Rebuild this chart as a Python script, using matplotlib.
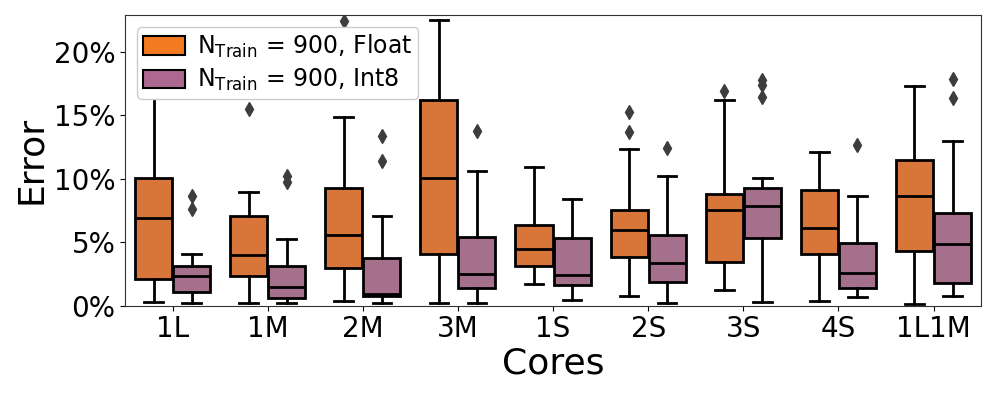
import matplotlib.pyplot as plt
from matplotlib.patches import Patch
from matplotlib.ticker import PercentFormatter

cores = ['1L', '1M', '2M', '3M', '1S', '2S', '3S', '4S', '1L1M']

# box stats in percent
float_lo = [0.3, 0.17, 0.35, 0.17, 1.67, 0.77, 1.22, 0.35, 0.14]
float_q1 = [2.08, 2.32, 2.97, 4.05, 3.08, 3.84, 3.44, 4.05, 4.26]
float_med = [6.93, 3.99, 5.54, 10.02, 4.44, 5.99, 7.51, 6.09, 8.61]
float_q3 = [10.06, 7.04, 9.29, 16.23, 6.35, 7.53, 8.77, 9.10, 11.49]
float_hi = [18.0, 8.98, 14.84, 22.47, 10.89, 12.33, 16.18, 12.12, 17.31]
float_fliers = [[], [15.5], [22.44], [], [], [15.27, 13.64], [16.92], [], []]

int8_lo = [0.17, 0.17, 0.2, 0.17, 0.46, 0.17, 0.3, 0.64, 0.75]
int8_q1 = [1.04, 0.59, 0.77, 1.35, 1.61, 1.87, 5.31, 1.40, 1.77]
int8_med = [2.30, 1.43, 0.9, 2.48, 2.40, 3.32, 7.85, 2.53, 4.86]
int8_q3 = [3.13, 3.13, 3.73, 5.39, 5.33, 5.52, 9.26, 4.91, 7.33]
int8_hi = [4.10, 5.23, 7.04, 10.57, 8.37, 10.18, 10.08, 8.66, 12.99]
int8_fliers = [[8.63, 7.59], [10.2, 9.73], [13.4, 11.36], [13.72], [], [12.43],
               [17.78, 17.4, 16.42], [12.62], [17.89, 16.39]]

plt.rcParams['mathtext.default'] = 'regular'

fig = plt.figure(figsize=(9.96, 3.99), dpi=100)
ax = fig.add_axes([0.1255, 0.2343, 0.8595, 0.7281])


def stats(lo, q1, med, q3, hi, fl):
    return [dict(whislo=a, q1=b, med=c, q3=d, whishi=e, fliers=f)
            for a, b, c, d, e, f in zip(lo, q1, med, q3, hi, fl)]


series = [
    (stats(float_lo, float_q1, float_med, float_q3, float_hi, float_fliers), -0.2, '#d8763a'),
    (stats(int8_lo, int8_q1, int8_med, int8_q3, int8_hi, int8_fliers), 0.2, '#a4708c'),
]
for st, off, col in series:
    pos = [i + off for i in range(len(cores))]
    ax.bxp(st, positions=pos, widths=0.39, patch_artist=True, manage_ticks=False,
           boxprops=dict(facecolor=col, edgecolor='black', linewidth=2),
           medianprops=dict(color='black', linewidth=2),
           whiskerprops=dict(color='black', linewidth=2),
           capprops=dict(color='black', linewidth=2),
           flierprops=dict(marker='d', markerfacecolor='#3d3d3d',
                           markeredgecolor='#3d3d3d', markersize=7.5))

ax.set_xlim(-0.5, len(cores) - 0.5)
ax.set_ylim(0, 22.9)
ax.set_xticks(range(len(cores)))
ax.set_xticklabels(cores, fontsize=20)
ax.set_yticks([0, 5, 10, 15, 20])
ax.yaxis.set_major_formatter(PercentFormatter(100, decimals=0))
ax.tick_params(axis='y', labelsize=20)
ax.set_xlabel('Cores', fontsize=26, labelpad=2)
ax.set_ylabel('Error', fontsize=26)
for s in ax.spines.values():
    s.set_color('#333333')

handles = [Patch(facecolor='#f37a20', edgecolor='black', linewidth=1.5),
           Patch(facecolor='#ac6890', edgecolor='black', linewidth=1.5)]
labels = [r'$N_{Train}$ = 900, Float', r'$N_{Train}$ = 900, Int8']
ax.legend(handles, labels, loc='upper left', fontsize=17, framealpha=1,
          handlelength=1.8, handleheight=0.8, handletextpad=0.5,
          labelspacing=0.3, borderpad=0.25, borderaxespad=0.5)

fig.savefig('out.png', dpi=100)
